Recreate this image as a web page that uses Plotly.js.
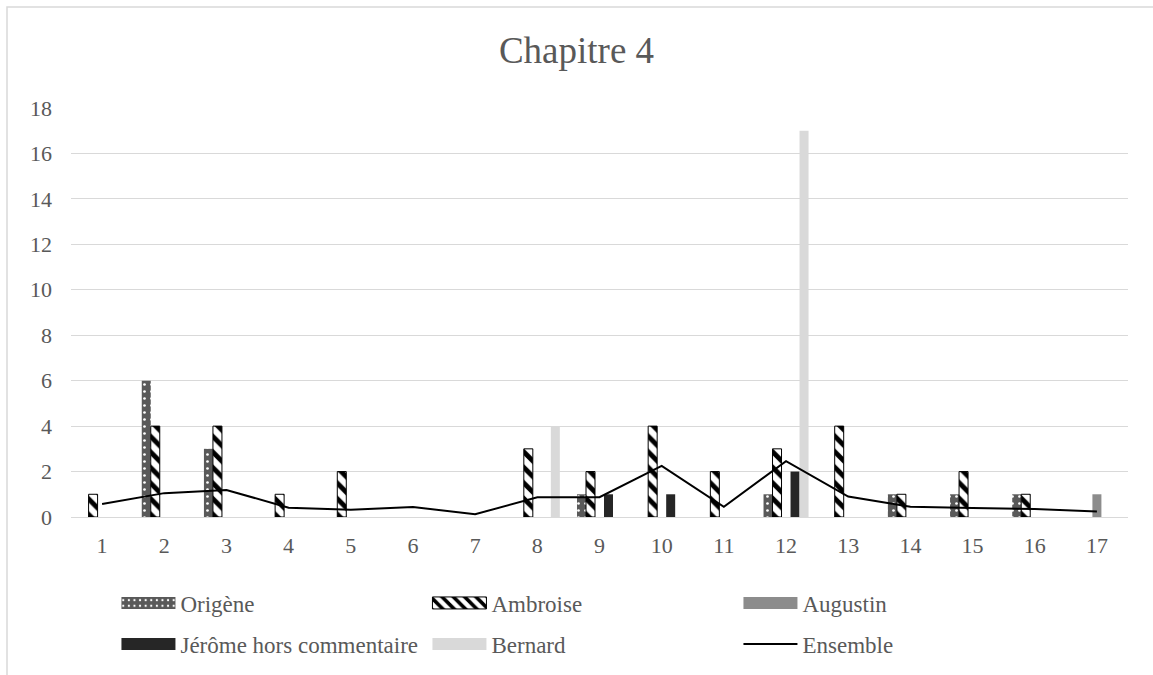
<!DOCTYPE html>
<html>
<head>
<meta charset="utf-8">
<script src="https://cdn.plot.ly/plotly-3.0.1.min.js"></script>
<style>
  html, body { margin: 0; padding: 0; background: #ffffff; }
  #chart { width: 1153px; height: 675px; }
</style>
</head>
<body>
<div id="chart"></div>
<script>
// ---- Data ----
const categories = [1, 2, 3, 4, 5, 6, 7, 8, 9, 10, 11, 12, 13, 14, 15, 16, 17];
const tickLabels = ["1", "2", "3", "4", "5", "6", "7", "8", "9", "10", "11", "12", "13", "14", "15", "16", "17"];
const origene  = [null, 6, 3, null, null, null, null, null, 1, null, null, 1, null, 1, 1, 1, null];
const ambroise = [1, 4, 4, 1, 2, null, null, 3, 2, 4, 2, 3, 4, 1, 2, 1, null];
const augustin = [null, null, null, null, null, null, null, null, null, null, null, null, null, null, null, null, 1];
const jerome   = [null, null, null, null, null, null, null, null, 1, 1, null, 2, null, null, null, null, null];
const bernard  = [null, null, null, null, null, null, null, 4, null, null, null, 17, null, null, null, null, null];
const ensemble = [0.57, 1.05, 1.19, 0.41, 0.32, 0.44, 0.12, 0.87, 0.87, 2.25, 0.45, 2.46, 0.9, 0.45, 0.4, 0.35, 0.24];
const yTicks = [0, 2, 4, 6, 8, 10, 12, 14, 16, 18];

const FONT = 'Liberation Serif, Times New Roman, serif';
const TXT = '#595959';

const traces = [
  {
    type: 'bar', name: 'Origène', x: categories, y: origene, legend: 'legend',
    marker: { color: '#595959', line: { width: 0 },
      pattern: { shape: '.', fgcolor: '#ffffff', bgcolor: '#595959', size: 7, solidity: 0.12, fillmode: 'replace' } }
  },
  {
    type: 'bar', name: 'Ambroise', x: categories, y: ambroise, legend: 'legend',
    marker: { color: '#ffffff', line: { color: '#000000', width: 1 },
      pattern: { shape: '\\', fgcolor: '#000000', bgcolor: '#ffffff', size: 11, solidity: 0.45, fillmode: 'replace' } }
  },
  {
    type: 'bar', name: 'Augustin', x: categories, y: augustin, legend: 'legend',
    marker: { color: '#8c8c8c', line: { width: 0 } }
  },
  {
    type: 'bar', name: 'Jérôme hors commentaire', x: categories, y: jerome, legend: 'legend2',
    marker: { color: '#262626', line: { width: 0 } }
  },
  {
    type: 'bar', name: 'Bernard', x: categories, y: bernard, legend: 'legend2',
    marker: { color: '#d9d9d9', line: { width: 0 } }
  },
  {
    type: 'scatter', mode: 'lines', name: 'Ensemble', x: categories, y: ensemble, legend: 'legend2',
    line: { color: '#000000', width: 2 }
  }
];

const legendCommon = {
  orientation: 'h', xref: 'paper', yref: 'paper', xanchor: 'left', yanchor: 'middle',
  font: { family: FONT, size: 23, color: TXT }, bgcolor: 'rgba(0,0,0,0)',
  entrywidth: 242, entrywidthmode: 'pixels', itemwidth: 54, borderwidth: 0,
  traceorder: 'normal'
};

const layout = {
  width: 1153, height: 675,
  margin: { l: 71, r: 25, t: 108, b: 158, pad: 0, autoexpand: false },
  paper_bgcolor: '#ffffff', plot_bgcolor: '#ffffff',
  font: { family: FONT, color: TXT, size: 22 },
  title: {
    text: 'Chapitre 4', font: { family: FONT, size: 37, color: TXT },
    x: 0.5, xref: 'container', xanchor: 'center', y: 1 - 50 / 675, yref: 'container', yanchor: 'middle'
  },
  barmode: 'group', bargap: 0.276, bargroupgap: 0,
  xaxis: {
    range: [0.5, 17.5], tickmode: 'array', tickvals: categories, ticktext: tickLabels,
    showgrid: false, zeroline: false, showline: true, linecolor: '#d9d9d9', linewidth: 1,
    ticks: '', ticklabelstandoff: 9, tickfont: { family: FONT, size: 22, color: TXT },
    fixedrange: true, automargin: false
  },
  yaxis: {
    range: [0, 18], tickmode: 'array', tickvals: yTicks, ticktext: yTicks.map(String),
    showgrid: true, gridcolor: '#d9d9d9', gridwidth: 1, zeroline: false, showline: false,
    ticks: '', ticklabelstandoff: 18, tickfont: { family: FONT, size: 22, color: TXT },
    fixedrange: true, automargin: false
  },
  legend: Object.assign({}, legendCommon, { x: 0.043, y: (517 - 603) / 409 }),
  legend2: Object.assign({}, legendCommon, { x: 0.043, y: (517 - 644) / 409 }),
  shapes: [
    { type: 'rect', xref: 'paper', yref: 'paper', x0: (7 - 71) / 1057, x1: 1.05, y0: -0.5, y1: (517 - 7) / 409,
      line: { color: '#d9d9d9', width: 1.5 }, fillcolor: 'rgba(0,0,0,0)', layer: 'below' }
  ],
  hovermode: false
};

Plotly.newPlot('chart', traces, layout, { staticPlot: true, displayModeBar: false }).then(function (gd) {
  // widen legend bar swatches to match the reference's long rectangular keys
  gd.querySelectorAll('.legendpoints path').forEach(function (p) {
    const d = (p.getAttribute('d') || '').replace(/\s/g, '');
    if (/^M6,6H-6V-6H6Z/.test(d)) p.setAttribute('d', 'M27,6H-27V-6H27Z');
  });
  gd.querySelectorAll('.legendlines path').forEach(function (p) {
    p.setAttribute('d', 'M5,0h54');
  });
});
</script>
</body>
</html>
